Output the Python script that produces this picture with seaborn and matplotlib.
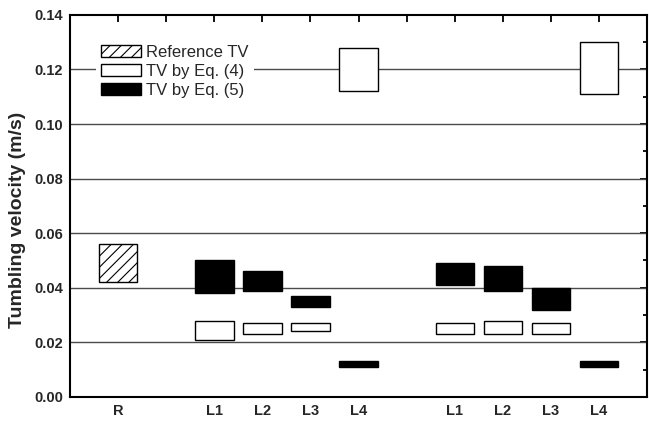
import matplotlib
matplotlib.use("Agg")
import matplotlib.pyplot as plt
from matplotlib.patches import Patch
from matplotlib.ticker import MultipleLocator
import seaborn as sns
import numpy as np

sns.set_theme(style="white")
plt.rcParams['font.family'] = ['Liberation Sans', 'DejaVu Sans']
plt.rcParams['hatch.linewidth'] = 0.8

categories = ['R', '', 'L1', 'L2', 'L3', 'L4', '', 'L1', 'L2', 'L3', 'L4']

ref_pos = [0]
ref_low = [0.042]
ref_high = [0.056]

eq4_pos = [2, 3, 4, 5, 7, 8, 9, 10]
eq4_low = [0.021, 0.023, 0.024, 0.112, 0.023, 0.023, 0.023, 0.111]
eq4_high = [0.028, 0.027, 0.027, 0.128, 0.027, 0.028, 0.027, 0.130]

eq5_pos = [2, 3, 4, 5, 7, 8, 9, 10]
eq5_low = [0.038, 0.039, 0.033, 0.011, 0.041, 0.039, 0.032, 0.011]
eq5_high = [0.050, 0.046, 0.037, 0.013, 0.049, 0.048, 0.040, 0.013]

fig = plt.figure(figsize=(6.49, 4.25), dpi=100)
ax = fig.add_axes([0.108, 0.066, 0.889, 0.899])

# gridlines
for yv in [0.02, 0.04, 0.06, 0.08, 0.10, 0.12]:
    ax.axhline(yv, color='#4a4a4a', lw=1.0, zorder=1)

w = 0.8
ax.bar(ref_pos, np.subtract(ref_high, ref_low), bottom=ref_low, width=w,
       facecolor='white', edgecolor='black', hatch='///', lw=1.0, zorder=3)
ax.bar(eq4_pos, np.subtract(eq4_high, eq4_low), bottom=eq4_low, width=w,
       facecolor='white', edgecolor='black', lw=1.0, zorder=3)
ax.bar(eq5_pos, np.subtract(eq5_high, eq5_low), bottom=eq5_low, width=w,
       facecolor='black', edgecolor='black', lw=1.0, zorder=3)

ax.set_xlim(-1, 11)
ax.set_ylim(0, 0.14)
ax.set_xticks(range(len(categories)))
ax.set_xticklabels(categories, fontweight='bold', fontsize=10.5)
ax.yaxis.set_major_locator(MultipleLocator(0.02))
ax.yaxis.set_minor_locator(MultipleLocator(0.01))
ax.set_yticklabels([f"{v:.2f}" for v in ax.get_yticks()], fontweight='bold', fontsize=10.5)
ax.tick_params(axis='both', which='both', direction='in', top=True, right=True,
               labelright=False, labeltop=False, color='black', width=1.3)
ax.tick_params(axis='both', which='major', length=5, pad=5)
ax.tick_params(axis='y', which='minor', length=3)
ax.tick_params(axis='x', which='minor', bottom=False, top=False)

for s in ax.spines.values():
    s.set_visible(True)
    s.set_color('black')
    s.set_linewidth(1.5)

ax.set_ylabel('Tumbling velocity (m/s)', fontweight='bold', fontsize=14)
ax.yaxis.set_label_coords(-0.077, 0.463)

handles = [
    Patch(facecolor='white', edgecolor='black', hatch='///', lw=1.0, label='Reference TV'),
    Patch(facecolor='white', edgecolor='black', lw=1.0, label='TV by Eq. (4)'),
    Patch(facecolor='black', edgecolor='black', lw=1.0, label='TV by Eq. (5)'),
]
leg = ax.legend(handles=handles, loc='upper left', bbox_to_anchor=(0.045, 0.935),
                frameon=True, fontsize=12, handlelength=2.4, handleheight=0.75,
                labelspacing=0.25, handletextpad=0.3, borderpad=0.3,
                borderaxespad=0.0)
leg.get_frame().set_edgecolor('none')
leg.get_frame().set_facecolor('white')
leg.get_frame().set_alpha(1)
leg.set_zorder(5)

fig.savefig('out.png', dpi=100)
